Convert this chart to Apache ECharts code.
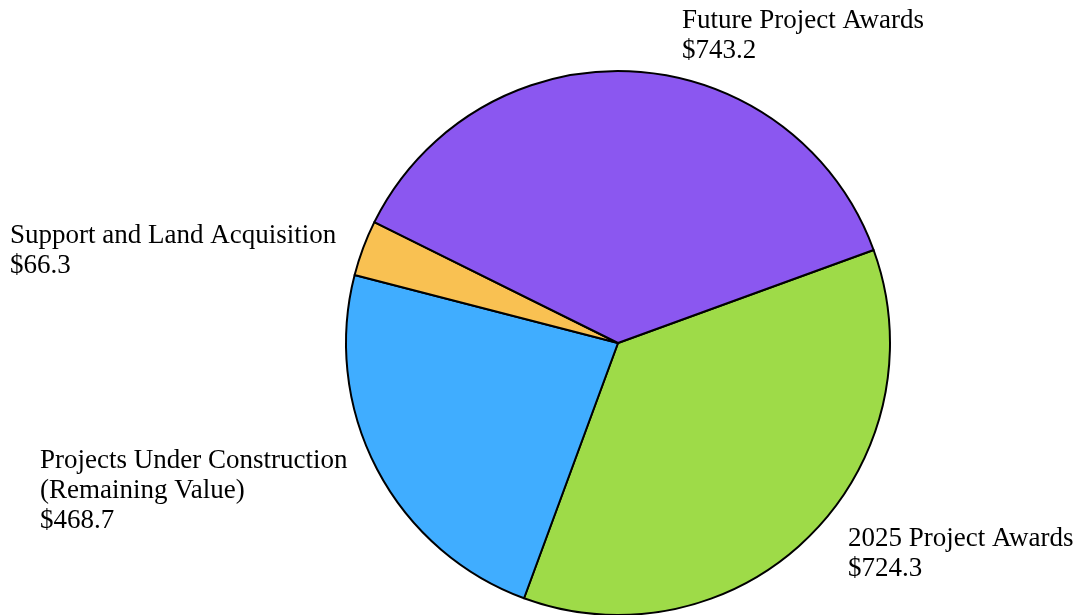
<!DOCTYPE html>
<html>
<head>
<meta charset="utf-8">
<script src="https://cdn.jsdelivr.net/npm/echarts@6/dist/echarts.min.js"></script>
<style>
  html, body { margin: 0; padding: 0; background: #fff; }
  #chart { width: 1078px; height: 615px; }
</style>
</head>
<body>
<div id="chart"></div>
<script>
// categories / values, clockwise from upper right
var categories = ['2025 Project Awards', 'Projects Under Construction\n(Remaining Value)', 'Support and Land Acquisition', 'Future Project Awards'];
var values = [724.3, 468.7, 66.3, 743.2];
var colors = ['#9EDB48', '#40ADFF', '#F9C152', '#8B57F0'];
// where each label sits (top-left corner)
var labelPos = [[848, 524], [40, 446], [10, 221], [682, 6]];

var pieData = [];
for (var i = 0; i < categories.length; i++) {
	pieData.push({ name: categories[i], value: values[i], itemStyle: { color: colors[i] } });
}

var myChart = echarts.init(document.getElementById('chart'));
var option = {
	animation: false,
	series: [{
		type: 'pie',
		center: [618, 343],
		radius: 272,
		startAngle: 20,
		clockwise: true,
		data: pieData,
		itemStyle: { borderColor: '#000', borderWidth: 2 },
		label: {
			show: true,
			position: 'outside',
			overflow: 'none',
			formatter: function(p) { return p.name + '\n$' + p.value.toFixed(1); },
			fontFamily: '"Liberation Serif", "Times New Roman", serif',
			fontSize: 27,
			lineHeight: 30,
			color: '#000'
		},
		labelLine: { show: false },
		labelLayout: function(params) {
			var pos = labelPos[params.dataIndex];
			return { x: pos[0], y: pos[1], align: 'left', verticalAlign: 'top', hideOverlap: false };
		}
	}]
};
myChart.setOption(option);
</script>
</body>
</html>
